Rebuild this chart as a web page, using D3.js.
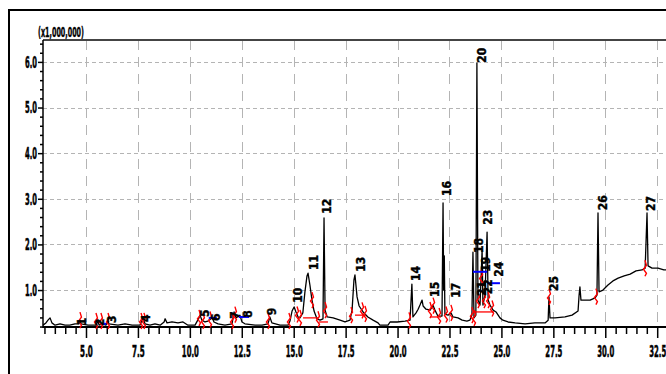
<!DOCTYPE html>
<html><head><meta charset="utf-8">
<script src="https://cdn.jsdelivr.net/npm/d3@7/dist/d3.min.js"></script>
<style>
body{margin:0;background:#fff}
svg{display:block}
text{font-family:"Liberation Sans Narrow","Arial Narrow","DejaVu Sans Condensed",sans-serif;font-weight:bold;fill:#000}
</style>
</head><body>
<svg id="c" width="666" height="374"></svg>
<script>
// ---- data (retention time in min, signal in x1,000,000) ----
const traceTime=[2.93,3.07,3.17,3.27,3.36,3.51,3.75,3.99,4.22,4.47,4.66,4.71,4.76,5.10,5.48,5.58,5.63,5.82,5.96,6.06,6.10,6.54,6.88,7.22,7.60,7.74,7.84,8.08,8.32,8.57,8.76,8.81,8.90,9.14,9.43,9.67,9.91,10.25,10.44,10.49,10.58,10.73,10.87,11.02,11.06,11.16,11.36,11.69,12.03,12.13,12.22,12.36,12.41,12.51,12.65,13.14,13.48,13.76,13.85,13.95,14.34,14.73,14.82,14.92,15.02,15.11,15.21,15.30,15.44,15.54,15.64,15.69,15.78,15.88,15.98,16.12,16.27,16.41,16.46,16.51,16.61,16.90,17.23,17.47,17.71,17.81,17.90,17.95,18.05,18.15,18.34,18.57,18.82,19.06,19.15,19.54,19.64,19.98,20.36,20.60,20.65,20.69,20.74,20.89,20.99,21.08,21.18,21.23,21.37,21.57,21.70,21.80,21.94,22.14,22.19,22.22,22.25,22.28,22.43,22.57,22.67,22.91,23.11,23.34,23.48,23.58,23.63,23.68,23.77,23.82,23.87,23.97,24.07,24.11,24.21,24.31,24.36,24.45,24.60,24.74,24.93,25.07,25.32,25.66,26.14,26.61,27.10,27.25,27.29,27.34,27.58,28.06,28.40,28.69,28.74,28.78,28.83,29.03,29.27,29.51,29.60,29.65,29.70,29.89,30.13,30.37,30.62,30.91,31.20,31.48,31.77,31.92,32.01,32.06,32.25,32.54,32.82,33.02];
const traceSignal=[0.23,0.28,0.34,0.39,0.28,0.23,0.26,0.23,0.23,0.26,0.26,0.34,0.26,0.23,0.23,0.32,0.23,0.26,0.23,0.32,0.26,0.23,0.26,0.23,0.23,0.39,0.26,0.23,0.26,0.23,0.30,0.37,0.28,0.30,0.28,0.30,0.23,0.23,0.39,0.45,0.34,0.30,0.32,0.37,0.41,0.30,0.26,0.23,0.26,0.52,0.39,0.43,0.45,0.30,0.26,0.23,0.23,0.26,0.41,0.28,0.23,0.23,0.32,0.54,0.63,0.52,0.41,0.39,0.50,0.96,1.31,1.37,1.11,0.78,0.54,0.37,0.34,0.37,2.58,0.56,0.41,0.39,0.34,0.30,0.34,0.56,1.22,1.33,0.85,0.65,0.52,0.41,0.34,0.28,0.23,0.23,0.30,0.30,0.32,0.34,0.78,1.13,0.41,0.50,0.58,0.67,0.78,0.65,0.58,0.56,0.67,0.56,0.43,0.43,2.91,1.00,1.75,0.47,0.45,0.50,0.41,0.39,0.34,0.32,0.34,0.45,1.83,0.39,0.45,5.98,0.78,0.67,1.88,0.67,0.89,2.27,0.78,0.67,0.56,0.52,0.39,0.34,0.30,0.28,0.26,0.28,0.28,0.34,0.85,0.39,0.39,0.41,0.45,0.54,0.89,1.07,0.78,0.78,0.78,0.83,0.89,2.69,0.96,1.00,1.11,1.20,1.26,1.31,1.35,1.42,1.44,1.48,2.69,1.53,1.48,1.48,1.44,1.44];
const xTickValues=[5,7.5,10,12.5,15,17.5,20,22.5,25,27.5,30,32.5];
const yTickValues=[1,2,3,4,5,6];
const yAxisTitle="(x1,000,000)";
const peakNumbers=[1,2,3,4,5,6,7,8,9,10,11,12,13,14,15,16,17,18,19,20,21,22,23,24,25,26,27];
const peakLabelTime=[4.81,5.67,6.25,7.89,10.73,11.26,12.17,12.80,13.96,15.21,15.98,16.60,18.24,20.89,21.80,22.38,22.81,23.92,24.26,24.07,24.07,24.36,24.36,24.88,27.53,29.89,32.20];
const peakLabelSignal=[0.23,0.21,0.28,0.30,0.41,0.32,0.37,0.39,0.45,0.72,1.44,2.67,1.40,1.20,0.85,3.06,0.83,1.81,1.40,5.98,0.87,0.91,2.43,1.29,0.98,2.75,2.73];
const markTime=[4.71,5.48,5.72,6.06,7.65,7.79,10.44,10.63,10.97,12.03,12.17,13.76,14.77,15.16,15.30,15.88,16.17,16.51,17.76,18.29,18.43,20.55,21.56,21.71,22.00,22.33,22.57,23.58,23.68,23.87,24.02,24.16,24.36,24.55,27.29,29.55,31.91];
const redBaseStart=[15.45,16.22,17.95,21.61,23.68];
const redBaseEnd=[16.17,16.65,18.48,22.09,24.64];
const redBaseSignal=[0.39,0.30,0.45,0.41,0.52];
const blueStart=[5.78,10.91,12.36,23.63,24.31];
const blueEnd=[5.97,11.30,12.85,24.31,24.93];
const blueSignal=[0.26,0.39,0.41,1.40,1.15];

// ---- chart ----
const svg=d3.select("#c");
svg.append("rect").attr("width",666).attr("height",374).attr("fill","#fff");
const L=43,T=40,B=327,R=668;
const x=d3.scaleLinear().domain([2.93,33.02]).range([L,R]);
const y=d3.scaleLinear().domain([0.19,6.48]).range([B,T]);

// outer frame
svg.append("path").attr("d","M9,380V10H672").attr("fill","none").attr("stroke","#000").attr("stroke-width",2);

// grid
const grid=svg.append("g").attr("stroke","#b4b4b4").attr("stroke-width",1);
grid.selectAll(".h").data(yTickValues).join("line")
  .attr("x1",L).attr("x2",R).attr("y1",d=>Math.round(y(d))+0.5).attr("y2",d=>Math.round(y(d))+0.5)
  .attr("stroke-dasharray","4,3");
grid.selectAll(".v").data(xTickValues).join("line")
  .attr("y1",T).attr("y2",B).attr("x1",d=>Math.round(x(d))+0.5).attr("x2",d=>Math.round(x(d))+0.5)
  .attr("stroke-dasharray","10,7");

// top line
svg.append("line").attr("x1",L).attr("x2",R).attr("y1",T).attr("y2",T).attr("stroke","#444").attr("stroke-width",2);

// axes via d3 axis generators
const yMinor=d3.range(0.2,6.45,0.2).filter(v=>Math.abs(v-Math.round(v))>0.01);
const yAxisMinor=d3.axisLeft(y).tickValues(yMinor).tickSize(3).tickFormat("");
const yAxis=d3.axisLeft(y).tickValues(yTickValues).tickSize(5).tickPadding(1).tickFormat(d3.format(".1f"));
const gyMinor=svg.append("g").attr("transform",`translate(${L},0)`).call(yAxisMinor);
const gy=svg.append("g").attr("transform",`translate(${L},0)`).call(yAxis);
const xMinor=d3.range(3,33.01,0.5).filter(v=>!xTickValues.includes(v));
const xAxisMinor=d3.axisBottom(x).tickValues(xMinor).tickSize(7).tickFormat("");
const xAxis=d3.axisBottom(x).tickValues(xTickValues).tickSize(11).tickPadding(8).tickFormat(d3.format(".1f"));
const gxMinor=svg.append("g").attr("transform",`translate(0,${B})`).call(xAxisMinor);
const gx=svg.append("g").attr("transform",`translate(0,${B})`).call(xAxis);
[gy,gyMinor,gx,gxMinor].forEach(g=>{
  g.select(".domain").remove();
  g.selectAll("line").attr("stroke","#000").attr("stroke-width",1.5);
});
gy.selectAll("text").attr("font-size",15).attr("font-family",null).attr("font-weight",null)
  .attr("stroke","#000").attr("stroke-width",0.5)
  .attr("textLength",12).attr("lengthAdjust","spacingAndGlyphs").attr("dy","0.36em");
gx.selectAll("text").attr("font-size",15).attr("font-family",null).attr("font-weight",null)
  .attr("stroke","#000").attr("stroke-width",0.5)
  .attr("textLength",function(){return this.textContent.length*4.25;}).attr("lengthAdjust","spacingAndGlyphs");
svg.append("line").attr("x1",L).attr("x2",L).attr("y1",T).attr("y2",B+1).attr("stroke","#000").attr("stroke-width",1.5);
svg.append("line").attr("x1",L).attr("x2",R).attr("y1",B).attr("y2",B).attr("stroke","#000").attr("stroke-width",2);

// y axis title
svg.append("text").attr("x",38).attr("y",37).attr("font-size",14)
  .attr("stroke","#000").attr("stroke-width",0.4)
  .attr("textLength",46).attr("lengthAdjust","spacingAndGlyphs").text(yAxisTitle);

// trace
const pts=traceTime.map((t,i)=>[t,traceSignal[i]]);
svg.append("clipPath").attr("id","pc").append("rect").attr("x",L).attr("y",T).attr("width",R-L).attr("height",B-T);
svg.append("path").datum(pts).attr("clip-path","url(#pc)")
  .attr("d",d3.line().x(d=>x(d[0])).y(d=>y(d[1])))
  .attr("fill","none").attr("stroke","#000").attr("stroke-width",1.3).attr("stroke-linejoin","round");

// signal lookup for integration marks
const bis=d3.bisector(d=>d[0]).left;
function sig(t){const i=Math.max(1,Math.min(pts.length-1,bis(pts,t)));const a=pts[i-1],b=pts[i];return a[1]+(b[1]-a[1])*(t-a[0])/(b[0]-a[0]);}

// red baselines
svg.append("g").selectAll("line").data(redBaseStart).join("line")
  .attr("x1",d=>x(d)).attr("x2",(d,i)=>x(redBaseEnd[i]))
  .attr("y1",(d,i)=>y(redBaseSignal[i])).attr("y2",(d,i)=>y(redBaseSignal[i]))
  .attr("stroke","#ff0000").attr("stroke-width",1.3);

// red integration marks
svg.append("g").selectAll("path").data(markTime).join("path")
  .attr("d",t=>{const px=x(t),py=Math.min(y(sig(t)),B-6);return `M${px},${py-8}L${px+1.5},${py-3}L${px-1.5},${py+1}L${px+1.5},${py+5}L${px},${py+8}`;})
  .attr("fill","none").attr("stroke","#ff0000").attr("stroke-width",1.4);

// blue segments
svg.append("g").selectAll("line").data(blueStart).join("line")
  .attr("x1",d=>x(d)).attr("x2",(d,i)=>x(blueEnd[i]))
  .attr("y1",(d,i)=>y(blueSignal[i])).attr("y2",(d,i)=>y(blueSignal[i]))
  .attr("stroke","#0000ff").attr("stroke-width",2);

// peak labels (rotated, reading bottom to top)
svg.append("g").selectAll("text").data(peakNumbers).join("text")
  .attr("font-family","'Liberation Sans',Arial,sans-serif").attr("font-size",12)
  .attr("stroke","#000").attr("stroke-width",0.4)
  .attr("transform",(d,i)=>`translate(${x(peakLabelTime[i])+4.3},${y(peakLabelSignal[i])}) rotate(-90)`)
  .attr("text-anchor","start").text(d=>d);
</script>
</body></html>
